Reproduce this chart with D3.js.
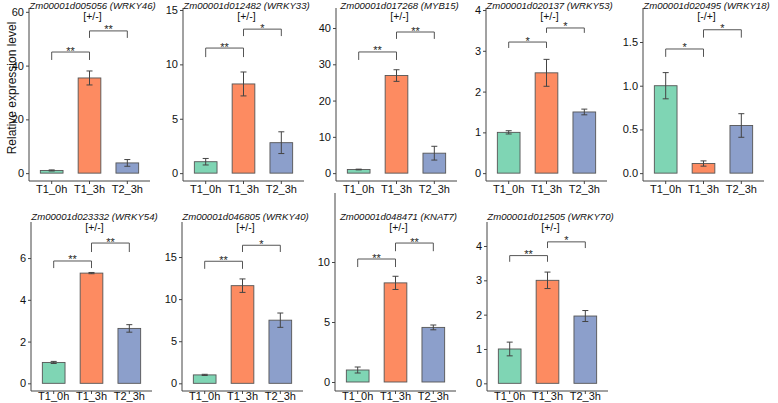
<!DOCTYPE html>
<html>
<head>
<meta charset="utf-8">
<script src="https://cdn.jsdelivr.net/npm/d3@7"></script>
<style>
  body { margin: 0; background: #fff; }
  text { font-family: "Liberation Sans", Arial, sans-serif; }
</style>
</head>
<body>
<div id="chart"></div>
<script>
// catégories de l'axe x
const categories = ["T1_0h", "T1_3h", "T2_3h"];

// identifiants et noms des gènes
const geneIds = ["Zm00001d005056", "Zm00001d012482", "Zm00001d017268", "Zm00001d020137", "Zm00001d020495",
                 "Zm00001d023332", "Zm00001d046805", "Zm00001d048471", "Zm00001d012505"];
const geneNames = ["WRKY46", "WRKY33", "MYB15", "WRKY53", "WRKY18", "WRKY54", "WRKY40", "KNAT7", "WRKY70"];
const signs = ["[+/-]", "[+/-]", "[+/-]", "[+/-]", "[-/+]", "[+/-]", "[+/-]", "[+/-]", "[+/-]"];

// moyennes et erreurs standard
const means = [
  [1.0, 35.4, 3.8],
  [1.05, 8.2, 2.8],
  [1.0, 26.9, 5.5],
  [1.0, 2.46, 1.5],
  [1.0, 0.11, 0.545],
  [1.0, 5.28, 2.63],
  [1.0, 11.6, 7.5],
  [1.0, 8.26, 4.55],
  [1.0, 3.0, 1.96]
];
const errors = [
  [0.2, 2.6, 1.25],
  [0.3, 1.1, 1.0],
  [0.1, 1.6, 1.9],
  [0.04, 0.33, 0.07],
  [0.15, 0.03, 0.135],
  [0.05, 0.03, 0.18],
  [0.07, 0.8, 0.85],
  [0.25, 0.55, 0.2],
  [0.2, 0.24, 0.16]
];

// limite haute des données (avant expansion de 5%)
const yLimits = [58.5, 14.46, 43.35, 3.857, 1.799, 7.36, 18.25, 15.0, 4.475];

// graduations de l'axe y
const yTicks = [
  [0, 20, 40, 60],
  [0, 5, 10, 15],
  [0, 10, 20, 30, 40],
  [0, 1, 2, 3, 4],
  [0.0, 0.5, 1.0, 1.5],
  [0, 2, 4, 6],
  [0, 5, 10, 15],
  [0, 5, 10],
  [0, 1, 2, 3, 4]
];

// crochets de significativité : [de, à, hauteur, fin des pattes, étiquette]
const brackets = [
  [[0, 1, 45.05, 42.1, "**"], [1, 2, 52.9, 50.3, "**"]],
  [[0, 1, 11.5, 10.67, "**"], [1, 2, 13.24, 12.6, "*"]],
  [[0, 1, 33.4, 31.2, "**"], [1, 2, 38.9, 37.0, "**"]],
  [[0, 1, 3.215, 3.07, "*"], [1, 2, 3.56, 3.44, "*"]],
  [[0, 1, 1.42, 1.33, "*"], [1, 2, 1.64, 1.55, "*"]],
  [[0, 1, 5.86, 5.52, "**"], [1, 2, 6.72, 6.29, "**"]],
  [[0, 1, 14.5, 13.6, "**"], [1, 2, 16.4, 15.6, "*"]],
  [[0, 1, 10.25, 9.58, "**"], [1, 2, 11.58, 10.9, "**"]],
  [[0, 1, 3.72, 3.54, "**"], [1, 2, 4.12, 3.94, "*"]]
];

const colors = ["#7fd5b4", "#fd8b61", "#8c9fcb"];

// mise en page des panneaux
const width = 778;
const height = 403;
const panelLeft = [29, 183, 336, 486, 643, 31, 182, 335, 487];
const panelWidth = 121;
const rows = [
  { top: 8, bottom: 181, title: 8.8, labels: 193 },
  { top: 222, bottom: 391, title: 220, labels: 400 }
];

const svg = d3.select("#chart")
  .append("svg")
  .attr("width", width)
  .attr("height", height);

function drawPanel(i) {
  const row = rows[i < 5 ? 0 : 1];
  const left = panelLeft[i];
  const right = left + panelWidth;
  const top = i === 7 ? 193 : row.top;
  const bottom = row.bottom;

  const x = d3.scaleBand()
    .domain(categories)
    .range([left, right])
    .paddingInner(0.4)
    .paddingOuter(0.3);

  const m = yLimits[i];
  const y = d3.scaleLinear()
    .domain([-0.05 * m, 1.05 * m])
    .range([bottom, top]);

  const g = svg.append("g");

  // barres
  const data = categories.map((c, k) => ({ cat: c, v: means[i][k], e: errors[i][k], k: k }));
  g.selectAll(".bar")
    .data(data)
    .join("rect")
    .attr("x", d => x(d.cat))
    .attr("width", x.bandwidth())
    .attr("y", d => y(d.v))
    .attr("height", d => y(0) - y(d.v))
    .attr("fill", d => colors[d.k])
    .attr("stroke", "#555")
    .attr("stroke-width", 0.9);

  // barres d'erreur
  const cx = d => x(d.cat) + x.bandwidth() / 2;
  const eb = g.selectAll(".err")
    .data(data)
    .join("g")
    .attr("stroke", "#444")
    .attr("stroke-width", 1);
  eb.append("line")
    .attr("x1", cx).attr("x2", cx)
    .attr("y1", d => y(d.v + d.e)).attr("y2", d => y(d.v - d.e));
  eb.append("line")
    .attr("x1", d => cx(d) - 3).attr("x2", d => cx(d) + 3)
    .attr("y1", d => y(d.v + d.e)).attr("y2", d => y(d.v + d.e));
  eb.append("line")
    .attr("x1", d => cx(d) - 3).attr("x2", d => cx(d) + 3)
    .attr("y1", d => y(d.v - d.e)).attr("y2", d => y(d.v - d.e));

  // crochets de significativité
  brackets[i].forEach(b => {
    const x1 = x(categories[b[0]]) + x.bandwidth() / 2;
    const x2 = x(categories[b[1]]) + x.bandwidth() / 2;
    g.append("path")
      .attr("d", `M${x1},${y(b[3])}V${y(b[2])}H${x2}V${y(b[3])}`)
      .attr("fill", "none")
      .attr("stroke", "#555")
      .attr("stroke-width", 1);
    g.append("text")
      .attr("x", (x1 + x2) / 2)
      .attr("y", y(b[2]) + 2.5)
      .attr("text-anchor", "middle")
      .attr("font-size", 11)
      .attr("fill", "#222")
      .text(b[4]);
  });

  // axe y
  const yAxis = d3.axisLeft(y)
    .tickValues(yTicks[i])
    .tickSize(3)
    .tickPadding(2)
    .tickFormat(i === 4 ? d3.format(".1f") : d3.format("d"));
  const ga = g.append("g")
    .attr("transform", `translate(${left},0)`)
    .call(yAxis);
  ga.select(".domain").attr("d", `M0,${top}V${bottom}`);

  // axe x
  const xAxis = d3.axisBottom(x).tickSize(3);
  const gx = g.append("g")
    .attr("transform", `translate(0,${bottom})`)
    .call(xAxis);
  gx.select(".domain").attr("d", `M${left},0H${right}`);
  gx.selectAll(".tick text").attr("y", row.labels - bottom).attr("dy", null);

  [ga, gx].forEach(a => {
    a.selectAll(".domain").attr("stroke", "#444").attr("stroke-width", 1);
    a.selectAll(".tick line").attr("stroke", "#444");
    a.selectAll(".tick text").attr("font-size", 11).attr("fill", "#111");
  });

  // titre
  const cxTitle = (left + right) / 2 + 3;
  g.append("text")
    .attr("x", cxTitle)
    .attr("y", row.title)
    .attr("text-anchor", "middle")
    .attr("font-size", 9.6)
    .attr("font-style", "italic")
    .attr("fill", "#111")
    .text(geneIds[i] + " (" + geneNames[i] + ")");
  g.append("text")
    .attr("x", cxTitle)
    .attr("y", row.title + 10.8)
    .attr("text-anchor", "middle")
    .attr("font-size", 10.5)
    .attr("fill", "#111")
    .text(signs[i]);
}

for (let i = 0; i < geneIds.length; i++) drawPanel(i);

// étiquette de l'axe y
svg.append("text")
  .attr("transform", "translate(16,88) rotate(-90)")
  .attr("text-anchor", "middle")
  .attr("font-size", 12)
  .attr("fill", "#111")
  .text("Relative expression level");
</script>
</body>
</html>
